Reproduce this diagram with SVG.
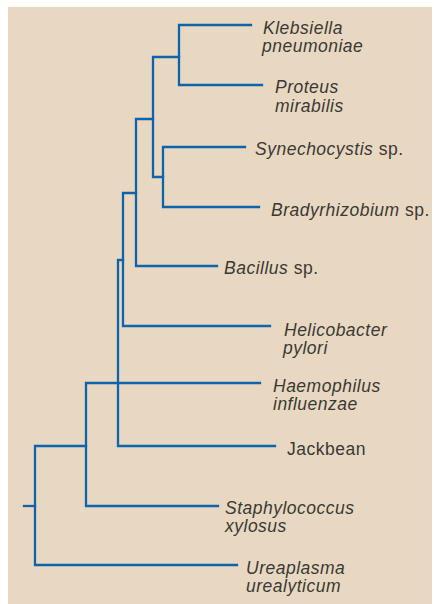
<svg xmlns="http://www.w3.org/2000/svg" width="434" height="604" viewBox="0 0 434 604">
<style>
.bg{fill:#e8d8c1}
.br{fill:none;stroke:#0e63ae;stroke-width:2.3;stroke-linecap:square;stroke-linejoin:miter}
text{font-family:"Liberation Sans",Arial,sans-serif;font-size:17.5px;letter-spacing:0.5px;fill:#3b3835}
.i{font-style:italic}
</style>
<rect class="bg" x="8" y="7" width="424" height="597"/>
<g id="connectors">
<path class="br" d="M251,25 H179 V85 H262"/>
<path class="br" d="M179,57 H153 V177 H163"/>
<path class="br" d="M245,147 H163 V207 H259"/>
<path class="br" d="M153,119 H136 V266 H217"/>
<path class="br" d="M136,193 H123 V326 H270"/>
<path class="br" d="M123,260 H118 V446 H275"/>
<path class="br" d="M260,383 H86 V506 H218"/>
<path class="br" d="M86,446 H35 V565 H237"/>
<path class="br" d="M24,506 H35"/>
</g>
<g id="klebsiella"><text class="i" x="263" y="34">Klebsiella</text><text class="i" x="262" y="52">pneumoniae</text></g>
<g id="proteus"><text class="i" x="275" y="93">Proteus</text><text class="i" x="275" y="111.5">mirabilis</text></g>
<g id="synechocystis"><text x="255" y="155"><tspan class="i">Synechocystis</tspan> sp.</text></g>
<g id="bradyrhizobium"><text x="271" y="216"><tspan class="i">Bradyrhizobium</tspan> sp.</text></g>
<g id="bacillus"><text x="224" y="274"><tspan class="i">Bacillus</tspan> sp.</text></g>
<g id="helicobacter"><text class="i" x="284" y="336">Helicobacter</text><text class="i" x="283" y="354">pylori</text></g>
<g id="haemophilus"><text class="i" x="273" y="392">Haemophilus</text><text class="i" x="273" y="410">influenzae</text></g>
<g id="jackbean"><text x="287" y="455">Jackbean</text></g>
<g id="staphylococcus"><text class="i" x="225" y="514">Staphylococcus</text><text class="i" x="225" y="531.5">xylosus</text></g>
<g id="ureaplasma"><text class="i" x="246" y="574">Ureaplasma</text><text class="i" x="246" y="591.5">urealyticum</text></g>
</svg>
